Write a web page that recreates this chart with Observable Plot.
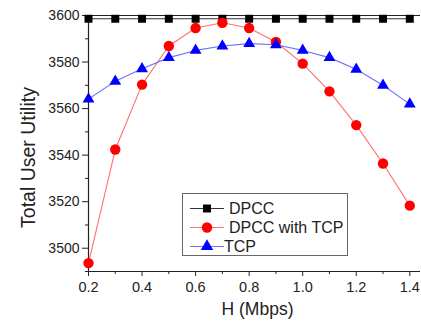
<!DOCTYPE html>
<html>
<head>
<meta charset="utf-8">
<script src="https://cdn.jsdelivr.net/npm/d3@7"></script>
<script src="https://cdn.jsdelivr.net/npm/@observablehq/plot@0.6"></script>
<style>
  html, body { margin: 0; padding: 0; background: #fff; }
  #chart { width: 421px; height: 324px; }
</style>
</head>
<body>
<div id="chart"></div>
<script>
const H = [0.2, 0.3, 0.4, 0.5, 0.6, 0.7, 0.8, 0.9, 1.0, 1.1, 1.2, 1.3, 1.4];
const dpcc = [3598.6, 3598.6, 3598.6, 3598.6, 3598.6, 3598.6, 3598.6, 3598.6, 3598.6, 3598.6, 3598.6, 3598.6, 3598.6];
const dpccTcp = [3493.6, 3542.4, 3570.3, 3586.9, 3594.6, 3596.9, 3594.6, 3588.6, 3579.3, 3567.4, 3552.9, 3536.4, 3518.3];
const tcp = [3564.1, 3571.7, 3577.1, 3581.9, 3585.0, 3586.9, 3587.9, 3587.4, 3585.0, 3581.9, 3576.9, 3570.0, 3561.9];
const seriesNames = ["DPCC", "DPCC with TCP", "TCP"];
const xMajor = [0.2, 0.4, 0.6, 0.8, 1.0, 1.2, 1.4];
const xMinor = [0.3, 0.5, 0.7, 0.9, 1.1, 1.3];
const yMajor = [3500, 3520, 3540, 3560, 3580, 3600];
const yMinor = [3490, 3510, 3530, 3550, 3570, 3590];

const rows = k => H.map((h, i) => ({h, v: k[i]}));
const dA = rows(dpcc), dB = rows(dpccTcp), dC = rows(tcp);
const font = "Liberation Sans, Arial, sans-serif";

const chart = Plot.plot({
  width: 421,
  height: 324,
  marginLeft: 88,
  marginRight: 1,
  marginTop: 15,
  marginBottom: 53,
  style: {fontFamily: font, background: "#fff", color: "#111"},
  x: {domain: [0.2, 1.44]},
  y: {domain: [3490, 3600]},
  marks: [
    Plot.ruleY([3600], {stroke: "#222", strokeWidth: 1}),
    Plot.axisX({ticks: xMinor, tickSize: 3, tickFormat: () => "", label: null, stroke: "#222"}),
    Plot.axisX({ticks: xMajor, tickSize: 5, tickPadding: 5, tickFormat: d3.format(".1f"), fontSize: 14.5, label: null, stroke: "#222", fill: "#222"}),
    Plot.axisY({ticks: yMinor, tickSize: 3, tickFormat: () => "", label: null, stroke: "#222"}),
    Plot.axisY({ticks: yMajor, tickSize: 6, tickPadding: 3, fontSize: 14, label: null, tickFormat: d3.format("d"), stroke: "#222", fill: "#222"}),
    Plot.ruleX([0.2], {stroke: "#222", strokeWidth: 1.2}),
    Plot.ruleY([3490], {stroke: "#222", strokeWidth: 1.2}),
    Plot.text(["Total User Utility"], {frameAnchor: "left", textAnchor: "middle", lineAnchor: "middle", rotate: -90, dx: -60, dy: 14, fontSize: 19.5, fill: "#222"}),
    Plot.text(["H (Mbps)"], {frameAnchor: "bottom", textAnchor: "middle", lineAnchor: "middle", dy: 38, dx: 3, fontSize: 17.5, fill: "#222"}),
    Plot.line(dA, {x: "h", y: "v", stroke: "#333", strokeWidth: 1}),
    Plot.line(dB, {x: "h", y: "v", stroke: "#ff7070", strokeWidth: 1.1}),
    Plot.line(dC, {x: "h", y: "v", stroke: "#7070ff", strokeWidth: 1.1}),
    Plot.dot(dA, {x: "h", y: "v", symbol: "square", r: 4.5, fill: "#000", stroke: "none"}),
    Plot.dot(dB, {x: "h", y: "v", symbol: "circle", r: 5.2, fill: "#ff0000", stroke: "none"}),
    Plot.dot(dC, {x: "h", y: "v", symbol: "triangle", r: 4.4, fill: "#0000ff", stroke: "none"})
  ]
});
document.getElementById("chart").appendChild(chart);

// legend box
const svg = d3.select(chart);
const lg = svg.append("g").attr("font-family", font).attr("font-size", 16).attr("text-anchor", "start");
lg.append("rect").attr("x", 182.5).attr("y", 193.5).attr("width", 165).attr("height", 62)
  .attr("fill", "#fff").attr("stroke", "#666").attr("stroke-width", 1);
const colors = ["#000", "#ff0000", "#0000ff"];
const lineColors = ["#333", "#ff7070", "#7070ff"];
const syms = [d3.symbolSquare, d3.symbolCircle, d3.symbolTriangle];
const sizes = [Math.PI * 4.5 * 4.5, Math.PI * 5.2 * 5.2, Math.PI * 4.6 * 4.6];
const rowY = [208.5, 227.5, 246.5];
const textX = [229, 229, 224];
seriesNames.forEach((name, i) => {
  lg.append("line").attr("x1", 190).attr("x2", 224).attr("y1", rowY[i]).attr("y2", rowY[i])
    .attr("stroke", lineColors[i]).attr("stroke-width", 1);
  lg.append("path").attr("d", d3.symbol(syms[i], sizes[i])())
    .attr("transform", `translate(207,${rowY[i]})`).attr("fill", colors[i]);
  lg.append("text").attr("x", textX[i]).attr("y", rowY[i]).attr("dy", "0.35em")
    .attr("text-anchor", "start").attr("fill", "#222").text(name);
});
</script>
</body>
</html>
